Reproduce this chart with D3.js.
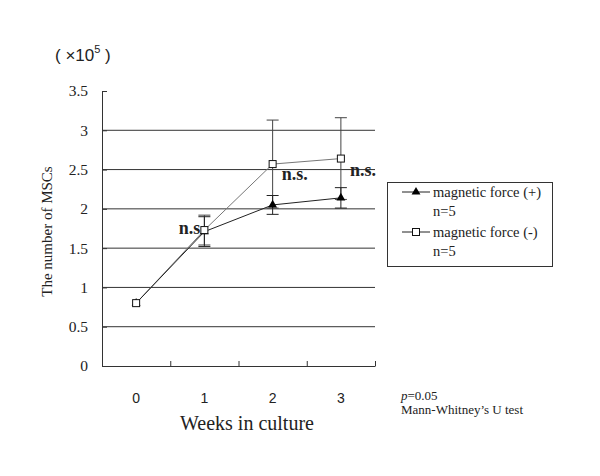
<!DOCTYPE html>
<html>
<head>
<meta charset="utf-8">
<script src="https://cdn.jsdelivr.net/npm/d3@7"></script>
<style>
  body { margin: 0; background: #fff; }
  svg { display: block; }
</style>
</head>
<body>
<svg id="chart" width="600" height="476"></svg>
<script>
const WEEKS = ['0', '1', '2', '3'];
const Y_TICKS = [0, 0.5, 1, 1.5, 2, 2.5, 3, 3.5];
const PLUS_MEAN = [0.80, 1.71, 2.05, 2.14];
const PLUS_ERR = [0, 0.19, 0.12, 0.13];
const MINUS_MEAN = [0.80, 1.73, 2.57, 2.64];
const MINUS_ERR = [0, 0.19, 0.56, 0.52];
const NS_LABELS = [
  { week: '1', value: 1.73, text: 'n.s' },
  { week: '2', value: 2.42, text: 'n.s.' },
  { week: '3', value: 2.47, text: 'n.s.' },
];
const LEGEND = [
  { label: 'magnetic force (+)', sub: 'n=5', marker: 'triangle' },
  { label: 'magnetic force (-)', sub: 'n=5', marker: 'square' },
];

const SERIF = '"Liberation Serif", "Times New Roman", serif';
const SANS = '"Liberation Sans", Arial, sans-serif';

const svg = d3.select('#chart');
const plot = { left: 102, right: 375, top: 91, bottom: 366 };

const x = d3.scaleBand().domain(WEEKS).range([plot.left, plot.right]).padding(0);
const xEdge = d3.scaleLinear().domain([0, WEEKS.length]).range([plot.left, plot.right]);
const y = d3.scaleLinear().domain([0, 3.5]).range([plot.bottom, plot.top]);
const cx = w => x(w) + x.bandwidth() / 2;

// gridlines
svg.append('g')
  .selectAll('line')
  .data(Y_TICKS.filter(v => v > 0 && v < 3.5))
  .join('line')
  .attr('x1', plot.left)
  .attr('x2', plot.right)
  .attr('y1', d => y(d))
  .attr('y2', d => y(d))
  .attr('stroke', '#333')
  .attr('stroke-width', 1);

// y axis
svg.append('g')
  .attr('transform', `translate(${plot.left},0)`)
  .call(d3.axisLeft(y).tickValues(Y_TICKS).tickSizeInner(-5).tickSizeOuter(0).tickPadding(14)
    .tickFormat(d => String(d)))
  .call(a => a.selectAll('path,line').attr('stroke', '#333'))
  .call(a => a.selectAll('text').attr('font-family', SERIF).attr('font-size', 15.5).attr('fill', '#222'));

// x axis line + inward ticks at band edges
svg.append('g')
  .attr('transform', `translate(0,${plot.bottom})`)
  .call(d3.axisBottom(xEdge).tickValues([1, 2, 3, 4]).tickSize(-5).tickSizeOuter(0).tickFormat(''))
  .call(a => a.selectAll('path,line').attr('stroke', '#333'));

// x labels at band centres
svg.append('g')
  .attr('transform', `translate(0,${plot.bottom + 24})`)
  .call(d3.axisBottom(x).tickSize(0))
  .call(a => a.select('.domain').remove())
  .call(a => a.selectAll('text').attr('font-family', SANS).attr('font-size', 14).attr('fill', '#222'));

// axis titles
svg.append('text')
  .attr('transform', `translate(52,${(plot.top + plot.bottom) / 2 + 3}) rotate(-90)`)
  .attr('text-anchor', 'middle')
  .attr('font-family', SERIF)
  .attr('font-size', 15)
  .attr('fill', '#222')
  .text('The number of MSCs');

svg.append('text')
  .attr('x', 247)
  .attr('y', 430)
  .attr('text-anchor', 'middle')
  .attr('font-family', SERIF)
  .attr('font-size', 20)
  .attr('fill', '#222')
  .text('Weeks in culture');

const unit = svg.append('text')
  .attr('x', 55)
  .attr('y', 61)
  .attr('font-family', SANS)
  .attr('font-size', 17)
  .attr('fill', '#222');
unit.append('tspan').text('( ×10');
unit.append('tspan').attr('dy', -8).attr('font-size', 11).text('5');
unit.append('tspan').attr('dy', 8).text('  )');

// error bars
function errorBars(means, errs, color) {
  const g = svg.append('g').attr('stroke', color).attr('stroke-width', 1);
  WEEKS.forEach((w, i) => {
    if (!errs[i]) return;
    const top = y(means[i] + errs[i]);
    const bot = y(means[i] - errs[i]);
    g.append('line').attr('x1', cx(w)).attr('x2', cx(w)).attr('y1', top).attr('y2', bot);
    g.append('line').attr('x1', cx(w) - 6).attr('x2', cx(w) + 6).attr('y1', top).attr('y2', top);
    g.append('line').attr('x1', cx(w) - 6).attr('x2', cx(w) + 6).attr('y1', bot).attr('y2', bot);
  });
}
errorBars(MINUS_MEAN, MINUS_ERR, '#444');
errorBars(PLUS_MEAN, PLUS_ERR, '#222');

const line = d3.line().x((d, i) => cx(WEEKS[i])).y(d => y(d));

svg.append('path')
  .datum(MINUS_MEAN)
  .attr('d', line)
  .attr('fill', 'none')
  .attr('stroke', '#777')
  .attr('stroke-width', 1);

svg.append('path')
  .datum(PLUS_MEAN)
  .attr('d', line)
  .attr('fill', 'none')
  .attr('stroke', '#222')
  .attr('stroke-width', 1);

const triangle = d3.symbol().type(d3.symbolTriangle).size(34);

function drawMarker(sel, kind, px, py) {
  if (kind === 'triangle') {
    sel.append('path')
      .attr('d', triangle())
      .attr('transform', `translate(${px},${py})`)
      .attr('fill', '#000');
  } else {
    sel.append('rect')
      .attr('x', px - 3.5)
      .attr('y', py - 3.5)
      .attr('width', 7)
      .attr('height', 7)
      .attr('fill', '#fff')
      .attr('stroke', '#111')
      .attr('stroke-width', 1);
  }
}

const markers = svg.append('g');
PLUS_MEAN.forEach((v, i) => drawMarker(markers, 'triangle', cx(WEEKS[i]), y(v)));
MINUS_MEAN.forEach((v, i) => drawMarker(markers, 'square', cx(WEEKS[i]), y(v)));

// n.s. annotations
svg.append('g')
  .selectAll('text')
  .data(NS_LABELS)
  .join('text')
  .attr('x', d => (d.week === '1' ? cx(d.week) - 4 : cx(d.week) + 9))
  .attr('y', d => y(d.value) + 4)
  .attr('text-anchor', d => (d.week === '1' ? 'end' : 'start'))
  .attr('font-family', SERIF)
  .attr('font-size', 18)
  .attr('font-weight', 'bold')
  .attr('fill', '#222')
  .text(d => d.text);

// legend
const legend = svg.append('g');
legend.append('rect')
  .attr('x', 387.5)
  .attr('y', 182.5)
  .attr('width', 165)
  .attr('height', 84)
  .attr('fill', '#fff')
  .attr('stroke', '#333');

LEGEND.forEach((item, i) => {
  const base = 197 + i * 40;
  legend.append('line')
    .attr('x1', 402).attr('x2', 430)
    .attr('y1', base - 5).attr('y2', base - 5)
    .attr('stroke', '#222');
  drawMarker(legend, item.marker, 416, base - 5);
  legend.append('text')
    .attr('x', 433).attr('y', base)
    .attr('font-family', SERIF).attr('font-size', 14.5).attr('fill', '#222')
    .text(item.label);
  legend.append('text')
    .attr('x', 433).attr('y', base + 19)
    .attr('font-family', SERIF).attr('font-size', 14.5).attr('fill', '#222')
    .text(item.sub);
});

// test note
const note = svg.append('text')
  .attr('x', 401).attr('y', 400)
  .attr('font-family', SERIF).attr('font-size', 13).attr('fill', '#222');
note.append('tspan').attr('font-style', 'italic').text('p');
note.append('tspan').text('=0.05');

svg.append('text')
  .attr('x', 401).attr('y', 414)
  .attr('font-family', SERIF).attr('font-size', 13).attr('fill', '#222')
  .text('Mann-Whitney’s U test');
</script>
</body>
</html>
